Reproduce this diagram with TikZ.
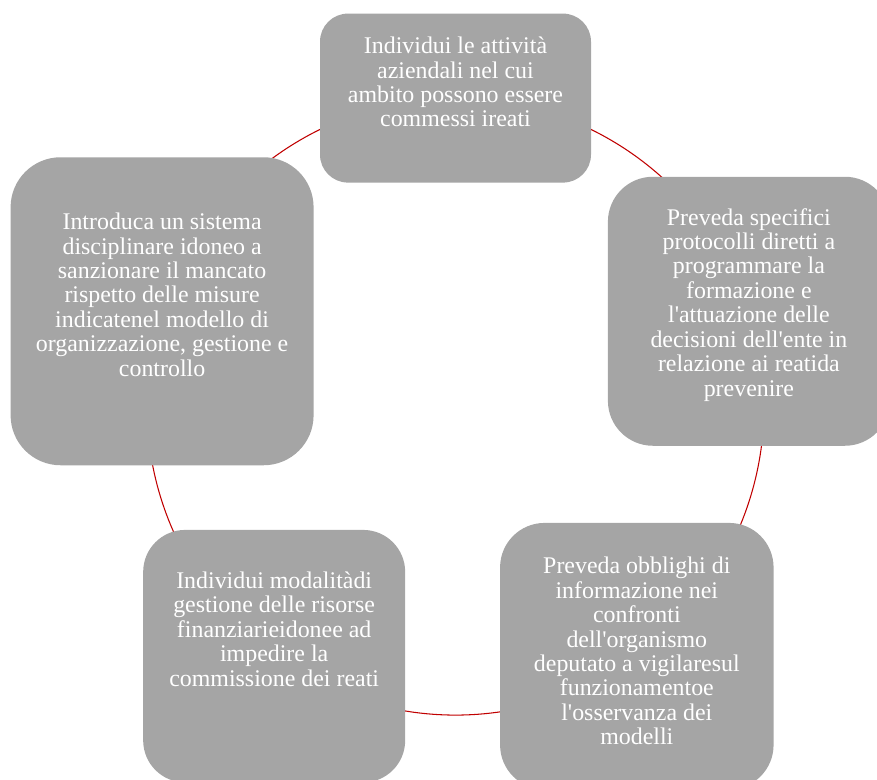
\documentclass[tikz,border=0pt]{standalone}
\usepackage{fontspec}
\setmainfont{Liberation Serif}
\usetikzlibrary{calc}
\definecolor{CycleGrau}{HTML}{A5A5A5}
\definecolor{CycleRot}{HTML}{C00000}
\tikzset{
  stepbox/.style={fill=CycleGrau, draw=none},
  steptext/.style={text=white, align=center, inner sep=0pt, font=\fontsize{13.6}{13.9}\selectfont},
  ring/.style={CycleRot, line width=0.6pt}
}

\begin{document}
\begin{tikzpicture}
  \useasboundingbox (0,0) rectangle (17.54,-15.6);
  \clip (0,0) rectangle (17.54,-15.6);
  \coordinate (ctr) at (9.11,-8.132);
  \foreach \n/\a in {1/90, 2/18, 3/-54, 4/-126, 5/162} {
    \coordinate (p\n) at ($(ctr)+(\a:6.17)$);
  }
  \foreach \n/\a/\b in {1/90/18, 2/18/-54, 3/-54/-126, 4/-126/-198, 5/162/90} {
    \draw[ring] (p\n) arc[start angle=\a, end angle=\b, radius=6.17];
  }

  \node[stepbox, minimum width=5.42cm, minimum height=3.38cm, rounded corners=0.56cm] (b1) at (p1) {};
  \node[stepbox, minimum width=5.64cm, minimum height=5.38cm, rounded corners=0.9cm] (b2) at (p2) {};
  \node[stepbox, minimum width=5.47cm, minimum height=5.33cm, rounded corners=0.89cm] (b3) at (p3) {};
  \node[stepbox, minimum width=5.24cm, minimum height=5.05cm, rounded corners=0.84cm] (b4) at (p4) {};
  \node[stepbox, minimum width=6.06cm, minimum height=6.16cm, rounded corners=1cm] (b5) at (p5) {};

  \node[steptext] (t1) at ([yshift=0.32cm]b1.center) {Individui le attività\\aziendali nel cui\\ambito possono essere\\commessi ireati};
  \node[steptext] (t2) at ([yshift=0.13cm]b2.center) {Preveda specifici\\protocolli diretti a\\programmare la\\formazione e\\l\textquotesingle attuazione delle\\decisioni dell\textquotesingle ente in\\relazione ai reatida\\prevenire};
  \node[steptext] (t3) at ([yshift=0.1cm]b3.center) {Preveda obblighi di\\informazione nei\\confronti\\dell\textquotesingle organismo\\deputato a vigilaresul\\funzionamentoe\\l\textquotesingle osservanza dei\\modelli};
  \node[steptext] (t4) at ([yshift=0.54cm]b4.center) {Individui modalitàdi\\gestione delle risorse\\finanziarieidonee ad\\impedire la\\commissione dei reati};
  \node[steptext] (t5) at ([yshift=0.33cm]b5.center) {Introduca un sistema\\disciplinare idoneo a\\sanzionare il mancato\\rispetto delle misure\\indicatenel modello di\\organizzazione, gestione e\\controllo};
\end{tikzpicture}
\end{document}
